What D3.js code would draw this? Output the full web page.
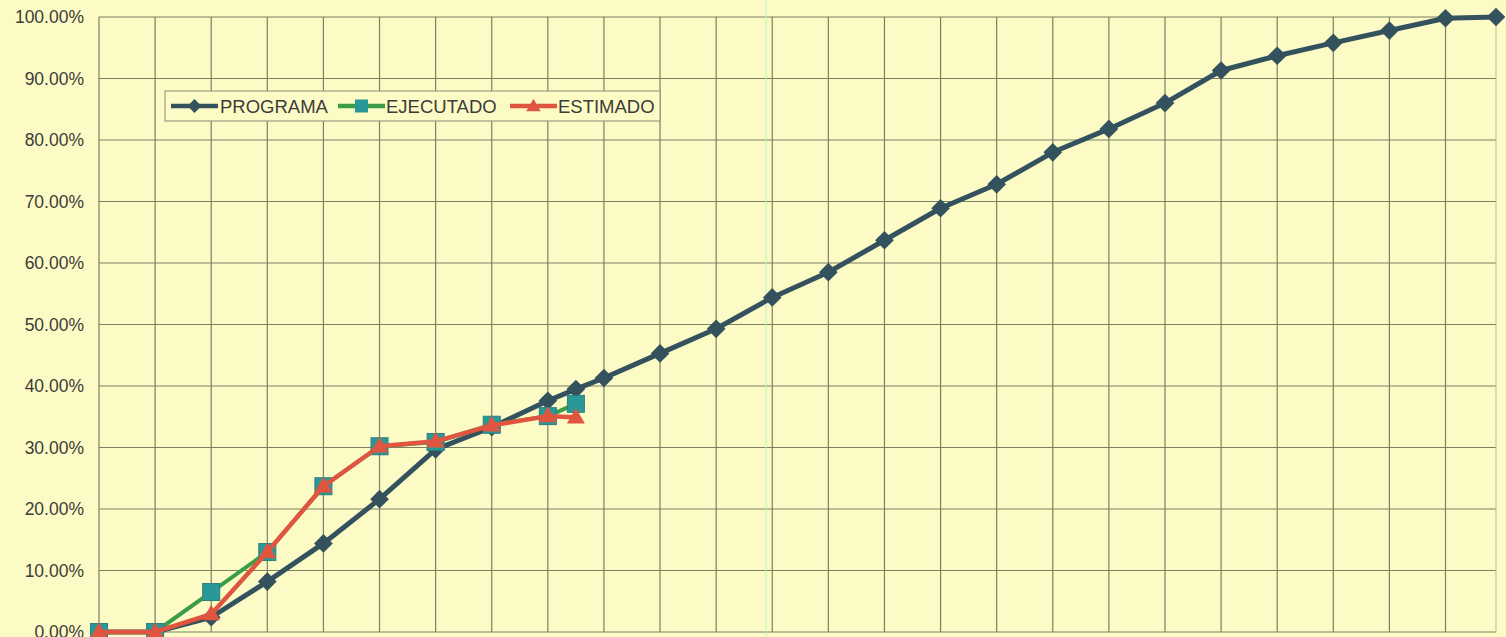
<!DOCTYPE html>
<html>
<head>
<meta charset="utf-8">
<script src="https://cdn.jsdelivr.net/npm/d3@7"></script>
<style>
  html, body { margin: 0; padding: 0; background: #fcfbc6; }
  svg { display: block; }
  text { font-family: "Liberation Sans", Arial, sans-serif; fill: #3c3c38; }
</style>
</head>
<body>
<div id="chart"></div>
<script>
// semanas desde el inicio (las lineas de la reticula van cada 2 semanas)
var semanasPrograma = [0,2,4,6,8,10,12,14,16,17,18,20,22,24,26,28,30,32,34,36,38,40,42,44,46,48,49.8];
var programa = [0,0,2.4,8.2,14.4,21.6,29.7,33.3,37.6,39.5,41.3,45.3,49.3,54.4,58.5,63.7,68.9,72.8,78.0,81.8,86.0,91.3,93.7,95.8,97.8,99.8,100];

var semanasReal = [0,2,4,6,8,10,12,14,16,17];
var ejecutado = [0,0,6.5,13.0,23.7,30.2,30.9,33.7,35.1,37.1];
var estimado  = [0,0,2.9,13.0,23.7,30.2,31.0,33.6,35.1,34.9];

var yTicks = [0,10,20,30,40,50,60,70,80,90,100];
var xGrid = [0,2,4,6,8,10,12,14,16,18,20,22,24,26,28,30,32,34,36,38,40,42,44,46,48];

var W = 1506, H = 637;
var mLeft = 99, mRight = 1496, mTop = 17, mBottom = 632;

var svg = d3.select('#chart').append('svg')
  .attr('width', W).attr('height', H);

svg.append('rect').attr('width', W).attr('height', H).attr('fill', '#fcfbc6');

var x = d3.scaleLinear().domain([0, 49.8]).range([mLeft, mRight]);
var y = d3.scaleLinear().domain([0, 100]).range([mBottom, mTop]);

// reticula
var grid = svg.append('g');
grid.selectAll('line.v').data(xGrid).enter().append('line')
  .attr('class', 'v')
  .attr('x1', d => x(d)).attr('x2', d => x(d))
  .attr('y1', mTop).attr('y2', mBottom)
  .attr('stroke', '#7a8062').attr('stroke-width', 1.2);
grid.selectAll('line.h').data(yTicks).enter().append('line')
  .attr('class', 'h')
  .attr('x1', mLeft).attr('x2', mRight)
  .attr('y1', d => y(d)).attr('y2', d => y(d))
  .attr('stroke', '#7a8062').attr('stroke-width', 1.2);
// borde derecho, mas claro
grid.append('line')
  .attr('x1', mRight).attr('x2', mRight).attr('y1', mTop).attr('y2', mBottom)
  .attr('stroke', '#b9b99a').attr('stroke-width', 1);
// linea clara del escaneo
svg.append('line')
  .attr('x1', 766).attr('x2', 766).attr('y1', 0).attr('y2', H)
  .attr('stroke', '#bdf2c8').attr('stroke-width', 1.2).attr('opacity', 0.8);

// eje y
var yAxis = d3.axisLeft(y).tickValues(yTicks).tickSize(0).tickPadding(15)
  .tickFormat(d => d.toFixed(2) + '%');
var ya = svg.append('g').attr('transform', 'translate(' + mLeft + ',0)').call(yAxis);
ya.select('.domain').remove();
ya.selectAll('text').attr('font-size', 17.5).style('fill', '#3c3c38')
  .attr('font-family', '"Liberation Sans", Arial, sans-serif');

var line = d3.line().x(d => x(d[0])).y(d => y(d[1]));

function serie(xs, vs) { return xs.map((s, i) => [s, vs[i]]); }

var dProg = serie(semanasPrograma, programa);
var dEje = serie(semanasReal, ejecutado);
var dEst = serie(semanasReal, estimado);

var cProg = '#33525e', cEjeLine = '#3c9c48', cEjeMark = '#2a9898', cEst = '#e0553f';

// PROGRAMA
var gP = svg.append('g');
gP.append('path').datum(dProg).attr('d', line)
  .attr('fill', 'none').attr('stroke', cProg).attr('stroke-width', 5).attr('stroke-linejoin', 'round');
gP.selectAll('path.m').data(dProg).enter().append('path')
  .attr('class', 'm')
  .attr('d', d3.symbol().type(d3.symbolSquare).size(175))
  .attr('transform', p => 'translate(' + x(p[0]) + ',' + y(p[1]) + ') rotate(45)')
  .attr('fill', cProg);

// EJECUTADO
var gE = svg.append('g');
gE.append('path').datum(dEje).attr('d', line)
  .attr('fill', 'none').attr('stroke', cEjeLine).attr('stroke-width', 4).attr('stroke-linejoin', 'round');
gE.selectAll('rect').data(dEje).enter().append('rect')
  .attr('x', p => x(p[0]) - 8.5).attr('y', p => y(p[1]) - 8.5)
  .attr('width', 17).attr('height', 17)
  .attr('fill', cEjeMark).attr('stroke', '#2c7f80').attr('stroke-width', 1);

// ESTIMADO
var gS = svg.append('g');
gS.append('path').datum(dEst).attr('d', line)
  .attr('fill', 'none').attr('stroke', cEst).attr('stroke-width', 4.5).attr('stroke-linejoin', 'round');
gS.selectAll('path.m').data(dEst).enter().append('path')
  .attr('class', 'm')
  .attr('d', d3.symbol().type(d3.symbolTriangle).size(140))
  .attr('transform', p => 'translate(' + x(p[0]) + ',' + (y(p[1]) + 1) + ')')
  .attr('fill', cEst);

// leyenda
var leg = svg.append('g');
leg.append('rect').attr('x', 165).attr('y', 91).attr('width', 495).attr('height', 30)
  .attr('fill', '#fcfbc6').attr('stroke', '#9c9c84').attr('stroke-width', 1.2);
var items = [
  {name: 'PROGRAMA', x0: 171, tx: 220, line: cProg, kind: 'd'},
  {name: 'EJECUTADO', x0: 338, tx: 386, line: cEjeLine, kind: 's'},
  {name: 'ESTIMADO', x0: 510, tx: 558, line: cEst, kind: 't'}
];
items.forEach(it => {
  var cy = 106;
  leg.append('line').attr('x1', it.x0).attr('x2', it.x0 + 47).attr('y1', cy).attr('y2', cy)
    .attr('stroke', it.line).attr('stroke-width', 4.5);
  var mx = it.x0 + 23.5;
  if (it.kind === 'd') {
    leg.append('path').attr('d', d3.symbol().type(d3.symbolSquare).size(95))
      .attr('transform', 'translate(' + mx + ',' + cy + ') rotate(45)').attr('fill', cProg);
  } else if (it.kind === 's') {
    leg.append('rect').attr('x', mx - 6.5).attr('y', cy - 6.5).attr('width', 13).attr('height', 13)
      .attr('fill', cEjeMark);
  } else {
    leg.append('path').attr('d', d3.symbol().type(d3.symbolTriangle).size(90))
      .attr('transform', 'translate(' + mx + ',' + (cy + 1) + ')').attr('fill', cEst);
  }
  leg.append('text').attr('x', it.tx).attr('y', cy + 6.5)
    .attr('font-size', 18.5).text(it.name);
});
</script>
</body>
</html>
